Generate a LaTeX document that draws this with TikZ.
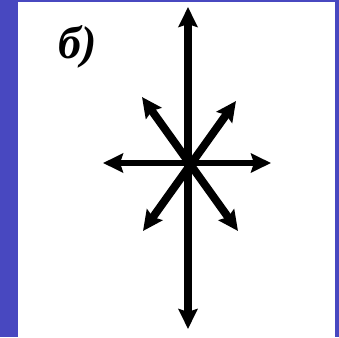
\documentclass[tikz,border=0pt]{standalone}
\usepackage{fontspec}
\setmainfont{Liberation Serif}
\usepackage{xcolor}
\usetikzlibrary{arrows.meta,positioning}

\definecolor{slideblue}{RGB}{72,72,192}

\begin{document}
\begin{tikzpicture}[
			x=1pt, y=-1pt,
			label/.style={font=\fontsize{46}{46}\selectfont\bfseries\itshape, inner sep=0pt},
			ray/.style={
				{Stealth[length=20pt,width=19pt,inset=3pt]}-{Stealth[length=20pt,width=19pt,inset=3pt]},
				line width=8pt
			},
			thinray/.style={ray, line width=6pt}
			]
			
			% ---- Background ----
			\useasboundingbox (0,0) rectangle (339,337);
			\fill[slideblue] (0,0) rectangle (339,337);
			\fill[white] (18,2) rectangle (335,337);
			
			% ---- Label ----
			\node[label] (tag) at (78,47) {б)};
			
			% ---- Points ----
			\coordinate (c) at (188,163);
			\coordinate (top) at (188,7);
			\coordinate (bottom) at (188,329);
			\coordinate (left) at (103,163);
			\coordinate (right) at (271,163);
			\coordinate (ul) at (142,97);
			\coordinate (ur) at (236,101);
			\coordinate (ll) at (143,231);
			\coordinate (lr) at (238,231);
			
			% ---- Rays ----
			\draw[ray] (top) -- (bottom);
			\draw[thinray] (left) -- (right);
			\draw[ray] (ul) -- (lr);
			\draw[ray] (ll) -- (ur);
			
		\end{tikzpicture}
\end{document}
